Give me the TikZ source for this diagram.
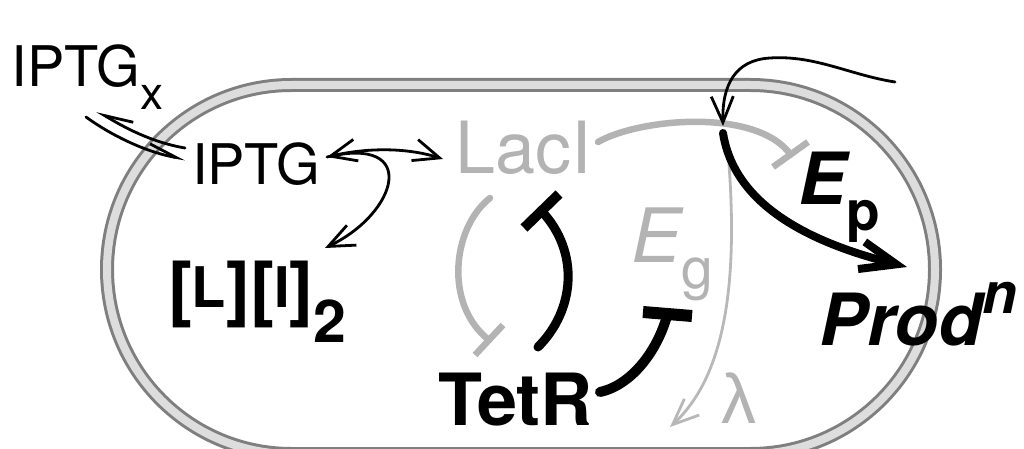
\documentclass[tikz,border=0pt]{standalone}
\usepackage{fontspec}
\setmainfont{TeX Gyre Heros}
\newfontfamily\lambdafont{Liberation Sans}
\usetikzlibrary{arrows.meta,calc}
\newcommand\fsz[1]{\fontsize{#1}{#1}\selectfont}
\definecolor{cellline}{HTML}{7F7F7F}
\definecolor{cellband}{HTML}{DCDDDC}
\definecolor{faint}{HTML}{B3B3B3}
\definecolor{faintline}{HTML}{B8B8B8}
\tikzset{
  txt/.style={inner sep=0pt, outer sep=0pt, anchor=base west},
  thinline/.style={line width=2.8pt, line cap=round, line join=round},
  grayarc/.style={line width=6.5pt, faint, line cap=round},
  blackarc/.style={line width=9pt, black, line cap=round},
  thinhead/.tip={Straight Barb[length=26pt,width=22pt]},
  upharp/.tip={Straight Barb[harpoon,swap,length=28pt,width=18pt]},
  dnharp/.tip={Straight Barb[harpoon,length=28pt,width=18pt]},
  bighead/.tip={Straight Barb[length=36pt,width=28pt]},
}
\begin{document}
\begin{tikzpicture}[x=1pt,y=-1pt]
\useasboundingbox (0,0) rectangle (1024,449);
\clip (0,0) rectangle (1024,449);

% cell envelope: dark rim with a light band inside
\draw[line width=14pt, cellline, rounded corners=184.5pt] (107,85) rectangle (935,454);
\draw[line width=8pt, cellband, rounded corners=184.5pt] (107,85) rectangle (935,454);

% species labels
\node[txt] (iptgx) at (12,87) {\fsz{56}IPTG\raisebox{-23pt}{\fsz{46}x}};
\node[txt] (iptg) at (192,184) {\fsz{56}IPTG};
\node[txt, text=faint] (laci) at (455,174) {\fsz{72}LacI};
\node[txt] (li2) at (168,313) {\bfseries\fsz{72}[\raisebox{6pt}{\fsz{56}L}][\raisebox{6pt}{\fsz{56}I}]\raisebox{-29pt}{\fsz{59}2}};
\node[txt] (tetr) at (438,425) {\bfseries\fsz{72}TetR};
\node[txt, text=faint] (eg) at (631,262) {\itshape\fsz{75}E\raisebox{-26pt}{\upshape\fsz{57}g}};
\node[txt] (ep) at (798,204) {\bfseries\itshape\fsz{72}E\raisebox{-27pt}{\upshape\fsz{55}p}};
\node[txt] (prod) at (819,345) {\bfseries\itshape\fsz{72}Prod\raisebox{32pt}{\fsz{57}n}};
\node[txt, text=faint] (lam) at (721,423) {\lambdafont\fsz{70}λ};

% connector end points
\coordinate (xin) at (185,148);
\coordinate (xout) at (97,111);
\coordinate (yin) at (86,117);
\coordinate (yout) at (185,159);
\coordinate (iR) at (327,157);
\coordinate (lL) at (443,159);
\coordinate (dT) at (325,248);
\coordinate (lacR) at (598,142);
\coordinate (epBar) at (790.5,154.5);
\coordinate (lacB) at (490,198);
\coordinate (tetBar) at (489,340);
\coordinate (tetT) at (538,347);
\coordinate (lacBar) at (541.5,211);
\coordinate (tetE) at (600,392);
\coordinate (egBar) at (667.5,314);
\coordinate (jn) at (723,133);
\coordinate (jtip) at (723,126);
\coordinate (inflow) at (895,82);
\coordinate (prodT) at (907,267);
\coordinate (lamS) at (727,140);
\coordinate (lamT) at (670,427);

% transport of IPTG across the envelope
\draw[thinline, -upharp] (xin) .. controls (150,142) and (122,126) .. (xout);
\draw[thinline, -dnharp] (yin) .. controls (115,138) and (150,153) .. (yout);

% binding of IPTG
\draw[thinline, thinhead-thinhead] (iR) .. controls (365,148) and (405,147) .. (lL);
\draw[thinline, -thinhead] (iR) .. controls (420,135) and (398,213) .. (dT);

% repression by LacI (grey)
\draw[grayarc] (lacR) .. controls (640,118) and (757,108) .. (epBar);
\draw[line width=6.5pt, faint] ($(epBar)+(-17.5,12.5)$) -- ($(epBar)+(17.5,-12.5)$);
\draw[grayarc] (lacB) .. controls (452,228) and (444,305) .. (tetBar);
\draw[line width=6.5pt, faint] ($(tetBar)+(-14,15)$) -- ($(tetBar)+(14,-15)$);

% dilution / growth
\draw[line width=2.8pt, faintline, line cap=round, -thinhead] (lamS) .. controls (738,260) and (732,370) .. (lamT);

% repression by TetR (black)
\draw[blackarc] (tetT) .. controls (575,310) and (580,252) .. (lacBar);
\draw[line width=10pt] ($(lacBar)+(-17.5,17)$) -- ($(lacBar)+(17.5,-17)$);
\draw[line width=10pt, line cap=round] (tetE) .. controls (632,385) and (658,350) .. (egBar);
\draw[line width=12pt] ($(egBar)+(-24.5,-2)$) -- ($(egBar)+(24.5,2)$);

% inducer input and production
\draw[thinline, -thinhead] (inflow) .. controls (850,75) and (815,55) .. (770,58) .. controls (735,60) and (722,85) .. (jtip);
\draw[line width=8pt, line cap=round, -bighead] (jn) .. controls (735,210) and (820,245) .. (prodT);
\end{tikzpicture}
\end{document}
